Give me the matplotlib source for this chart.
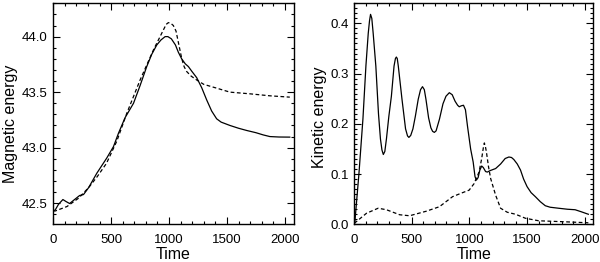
import numpy as np
import matplotlib
matplotlib.use("Agg")
import matplotlib.pyplot as plt
from matplotlib.ticker import MultipleLocator, FormatStrFormatter

plt.rcParams['font.family'] = ['Liberation Sans', 'DejaVu Sans']

# Magnetic energy (left panel)
mag_solid_t = [0, 17, 45, 83, 110, 141, 180, 227, 261, 305, 376, 462, 520, 563, 620, 693,
               750, 807, 850, 894, 930, 966, 990, 1020, 1055, 1080, 1109, 1140, 1167, 1195,
               1239, 1282, 1325, 1368, 1411, 1450, 1526, 1600, 1670, 1750, 1813, 1871, 1950,
               2043]
mag_solid_y = [42.43, 42.44, 42.49, 42.533, 42.515, 42.497, 42.53, 42.569, 42.578, 42.64,
               42.77, 42.907, 43.01, 43.13, 43.27, 43.40, 43.56, 43.73, 43.84, 43.925, 43.97,
               44.0, 44.0, 43.98, 43.925, 43.86, 43.80, 43.755, 43.73, 43.69, 43.63, 43.54,
               43.43, 43.33, 43.26, 43.23, 43.20, 43.175, 43.155, 43.135, 43.115, 43.10,
               43.096, 43.095]
mag_dash_t = [0, 17, 118, 218, 305, 380, 460, 549, 635, 750, 865, 951, 975, 994, 1015, 1037,
              1060, 1080, 1109, 1130, 1152, 1190, 1238, 1300, 1411, 1526, 1698, 1871, 2043]
mag_dash_y = [42.43, 42.43, 42.47, 42.545, 42.64, 42.74, 42.86, 43.06, 43.31, 43.61, 43.88,
              44.06, 44.11, 44.126, 44.12, 44.10, 44.05, 43.95, 43.805, 43.73, 43.686,
              43.645, 43.61, 43.57, 43.536, 43.50, 43.485, 43.467, 43.455]

# Kinetic energy (right panel)
kin_solid_t = [0, 5, 40, 75, 101, 121, 132, 141, 152, 164, 187, 210, 227, 240, 252, 265, 279,
               300, 322, 345, 357, 365, 373, 382, 414, 445, 462, 474, 490, 509, 530, 555, 575,
               592, 608, 622, 645, 665, 680, 695, 710, 739, 770, 796, 825, 850, 875, 897, 911,
               930, 948, 965, 983, 1010, 1032, 1048, 1060, 1075, 1090, 1106, 1120, 1140, 1155,
               1180, 1227, 1270, 1310, 1342, 1365, 1385, 1415, 1443, 1470, 1500, 1535, 1572,
               1615, 1658, 1700, 1773, 1850, 1917, 1970, 2032]
kin_solid_y = [0.0, 0.005, 0.10, 0.21, 0.316, 0.38, 0.405, 0.418, 0.41, 0.38, 0.315, 0.22,
               0.170, 0.148, 0.139, 0.145, 0.170, 0.215, 0.255, 0.315, 0.330, 0.333, 0.330,
               0.315, 0.249, 0.19, 0.176, 0.173, 0.177, 0.19, 0.215, 0.249, 0.268, 0.274,
               0.268, 0.249, 0.212, 0.192, 0.185, 0.183, 0.186, 0.209, 0.24, 0.255, 0.262,
               0.258, 0.245, 0.237, 0.234, 0.236, 0.237, 0.228, 0.195, 0.15, 0.124, 0.095,
               0.088, 0.093, 0.108, 0.116, 0.113, 0.105, 0.104, 0.107, 0.111, 0.12, 0.131,
               0.134, 0.133, 0.129, 0.12, 0.108, 0.09, 0.075, 0.063, 0.055, 0.045, 0.037,
               0.034, 0.032, 0.030, 0.029, 0.025, 0.020]
kin_dash_t = [0, 106, 207, 279, 394, 480, 624, 739, 853, 940, 997, 1040, 1083, 1106, 1120,
              1129, 1138, 1147, 1165, 1184, 1227, 1270, 1328, 1400, 1486, 1601, 1830, 2032]
kin_dash_y = [0.002, 0.022, 0.032, 0.029, 0.019, 0.017, 0.026, 0.035, 0.055, 0.063, 0.068,
              0.081, 0.104, 0.131, 0.152, 0.162, 0.155, 0.144, 0.115, 0.091, 0.058, 0.032,
              0.024, 0.020, 0.012, 0.007, 0.005, 0.003]

W, H = 600, 262
fig = plt.figure(figsize=(W / 100, H / 100), dpi=100)

def box(l, t, r, b):
    return [l / W, 1 - b / H, (r - l) / W, (b - t) / H]

ax1 = fig.add_axes(box(53.3, 3.3, 293.5, 224.3))
ax2 = fig.add_axes(box(354.3, 3.3, 593.3, 224.3))

lw = 0.9
ax1.plot(mag_solid_t, mag_solid_y, color='black', lw=lw)
ax1.plot(mag_dash_t, mag_dash_y, color='black', lw=lw, dashes=(3, 2))
ax2.plot(kin_solid_t, kin_solid_y, color='black', lw=lw)
ax2.plot(kin_dash_t, kin_dash_y, color='black', lw=lw, dashes=(3, 2))

ax1.set_xlim(0, 2075)
ax1.set_ylim(42.31, 44.30)
ax2.set_xlim(0, 2075)
ax2.set_ylim(0.0, 0.44)

ax1.yaxis.set_major_locator(MultipleLocator(0.5))
ax1.yaxis.set_minor_locator(MultipleLocator(0.1))
ax2.yaxis.set_major_locator(MultipleLocator(0.1))
ax2.yaxis.set_minor_locator(MultipleLocator(0.01))
ax1.yaxis.set_major_formatter(FormatStrFormatter('%.1f'))
ax2.yaxis.set_major_formatter(FormatStrFormatter('%.1f'))
for ax in (ax1, ax2):
    ax.xaxis.set_major_locator(MultipleLocator(500))
    ax.xaxis.set_minor_locator(MultipleLocator(100))
    ax.tick_params(which='both', direction='in', top=True, right=True, width=0.8)
    ax.tick_params(which='major', length=5, labelsize=9.5)
    ax.tick_params(which='minor', length=2.5)
    ax.tick_params(axis='x', which='major', pad=7)
    ax.tick_params(axis='y', which='major', pad=4)
    for s in ax.spines.values():
        s.set_linewidth(1.0)
    ax.set_xlabel('Time', fontsize=11.5, labelpad=1)

ax1.set_ylabel('Magnetic energy', fontsize=11.5)
ax2.set_ylabel('Kinetic energy', fontsize=11.5)
ax1.yaxis.set_label_coords(-0.149, 0.456)
ax2.yaxis.set_label_coords(-0.116, 0.486)

fig.savefig('out.png', dpi=100)
